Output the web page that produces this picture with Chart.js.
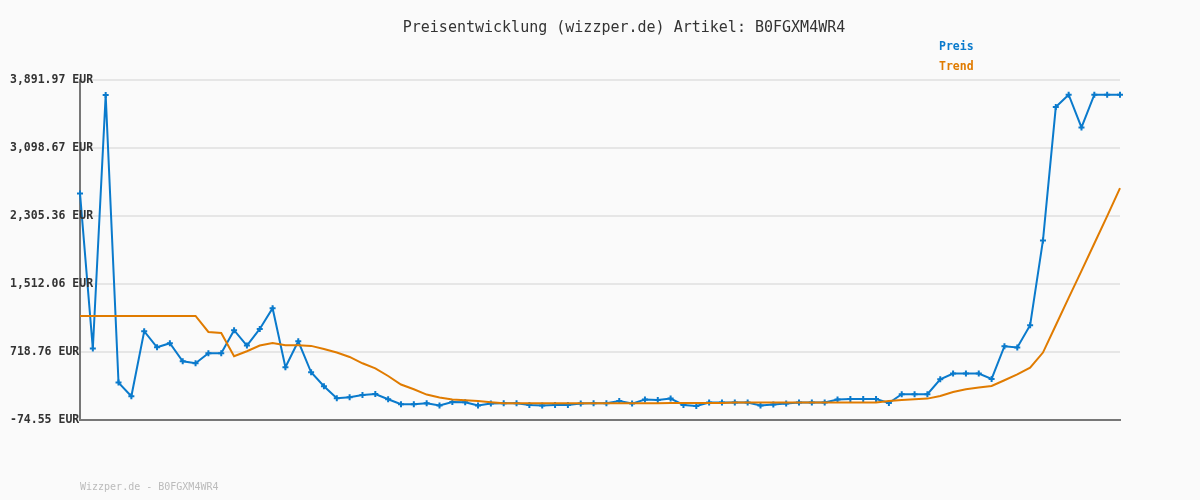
<!DOCTYPE html>
<html>
<head>
<meta charset="utf-8">
<script src="https://cdn.jsdelivr.net/npm/chart.js@4/dist/chart.umd.min.js"></script>
<style>
  html, body { margin: 0; padding: 0; background: #fafafa; }
  #wrap { width: 1200px; height: 500px; }
</style>
</head>
<body>
<div id="wrap"><canvas id="chart" width="1200" height="500"></canvas></div>
<script>
// price history, one value per day
const preis = [
  2569, 759, 3716, 362, 202, 961, 774, 821, 611, 587,
  704, 704, 973, 794, 988, 1230, 541, 844, 482, 319,
  179, 190, 217, 229, 167, 109, 109, 120, 94, 136,
  132, 94, 117, 120, 120, 101, 94, 101, 101, 117,
  120, 120, 147, 117, 164, 160, 175, 101, 89, 129,
  129, 129, 129, 94, 105, 117, 129, 129, 129, 164,
  171, 171, 171, 124, 226, 226, 226, 401, 467, 467,
  467, 404, 786, 771, 1031, 2020, 3576, 3720, 3339, 3720,
  3720, 3720
];

const trend = [
  1140, 1140, 1140, 1140, 1140, 1140, 1140, 1140, 1140, 1140,
  953, 941, 669, 728, 794, 824, 797, 797, 790, 754,
  712, 661, 587, 527, 439, 339, 284, 222, 187, 164,
  155, 147, 132, 120, 120, 120, 120, 120, 120, 120,
  120, 120, 120, 120, 120, 120, 125, 125, 125, 125,
  125, 130, 130, 130, 130, 130, 130, 130, 130, 130,
  130, 130, 130, 147, 160, 168, 175, 206, 253, 284,
  304, 322, 389, 457, 535, 712, 1031, 1350, 1665, 1985,
  2304, 2631
];

const categories = preis.map((_, i) => String(i + 1));

const yTicks = [-74.55, 718.76, 1512.06, 2305.36, 3098.67, 3891.97];

const titleText = 'Preisentwicklung (wizzper.de) Artikel: B0FGXM4WR4';
const footerText = 'Wizzper.de - B0FGXM4WR4';
const mono = '"DejaVu Sans Mono", "Liberation Mono", monospace';

function fmtEur(v) {
  return v.toLocaleString('en-US', { minimumFractionDigits: 2, maximumFractionDigits: 2 }) + ' EUR';
}

// title, legend, y labels and footer are drawn by hand to match the original layout
const decor = {
  id: 'decor',
  beforeDraw(chart) {
    const ctx = chart.ctx;
    ctx.save();
    ctx.fillStyle = '#fafafa';
    ctx.fillRect(0, 0, chart.width, chart.height);
    ctx.restore();
  },
  afterDraw(chart) {
    const ctx = chart.ctx;
    const y = chart.scales.y;
    ctx.save();

    ctx.font = '15px ' + mono;
    ctx.fillStyle = '#333';
    ctx.textAlign = 'center';
    ctx.textBaseline = 'middle';
    ctx.fillText(titleText, 624, 28);

    ctx.font = 'bold 11.5px ' + mono;
    ctx.textAlign = 'left';
    ctx.fillStyle = '#0a7acc';
    ctx.fillText('Preis', 939, 47);
    ctx.fillStyle = '#e07b00';
    ctx.fillText('Trend', 939, 67);

    ctx.fillStyle = '#333';
    yTicks.forEach((v) => {
      ctx.fillText(fmtEur(v), 10, y.getPixelForValue(v));
    });

    ctx.font = '10px ' + mono;
    ctx.fillStyle = '#bbb';
    ctx.fillText(footerText, 80, 487);
    ctx.restore();
  }
};

new Chart(document.getElementById('chart').getContext('2d'), {
  type: 'line',
  data: {
    labels: categories,
    datasets: [
      {
        label: 'Trend',
        data: trend,
        borderColor: '#e07b00',
        borderWidth: 2,
        pointRadius: 0,
        tension: 0,
        order: 0
      },
      {
        label: 'Preis',
        data: preis,
        borderColor: '#0a7acc',
        backgroundColor: '#0a7acc',
        borderWidth: 2,
        pointStyle: 'cross',
        pointRadius: 3,
        pointBorderWidth: 2,
        tension: 0,
        order: 1
      }
    ]
  },
  options: {
    responsive: false,
    animation: false,
    layout: { padding: { left: 80, right: 80, top: 80, bottom: 80 } },
    plugins: {
      legend: { display: false },
      title: { display: false },
      tooltip: { enabled: false }
    },
    scales: {
      x: {
        offset: false,
        grid: { display: false, drawTicks: false },
        ticks: { display: false },
        border: { display: true, color: '#777', width: 2 }
      },
      y: {
        min: yTicks[0],
        max: yTicks[yTicks.length - 1],
        afterBuildTicks: (scale) => {
          scale.ticks = yTicks.map((v) => ({ value: v }));
        },
        grid: { color: '#e6e6e6', lineWidth: 2, drawTicks: false },
        ticks: { display: false },
        border: { display: true, color: '#777', width: 2 }
      }
    }
  },
  plugins: [decor]
});
</script>
</body>
</html>
